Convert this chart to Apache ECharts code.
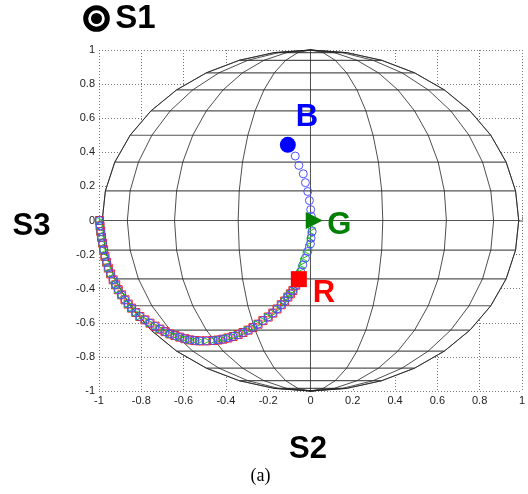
<!DOCTYPE html>
<html>
<head>
<meta charset="utf-8">
<script src="https://cdn.jsdelivr.net/npm/echarts@6/dist/echarts.min.js"></script>
<style>
  html, body { margin: 0; background: #fff; }
  #chart { width: 528px; height: 494px; }
</style>
</head>
<body>
<div id="chart"></div>
<script>
// sphere mesh (degrees)
const latDeg = [-90, -80, -70, -60, -50, -40, -30, -20, -10, 0, 10, 20, 30, 40, 50, 60, 70, 80, 90];
const lonDeg = [-80, -60, -40, -20, 0, 20, 40, 60, 80];

// key states
const pointB = [-0.107, 0.444];
const pointG = [0.018, 0.0];
const pointR = [-0.055, -0.344];

// blue trace B -> G
const blueBG = [
  [-0.072, 0.378], [-0.055, 0.323], [-0.034, 0.274], [-0.024, 0.222],
  [-0.013, 0.170], [-0.005, 0.117], [0.001, 0.064], [0.004, 0.025]
];
// trace G -> R (blue)
const blueGR = [
  [0.008, -0.065], [0.003, -0.103], [0.0, -0.137], [-0.013, -0.182],
  [-0.024, -0.221], [-0.036, -0.260], [-0.046, -0.300]
];
// trace G -> R (green)
const greenGR = [
  [0.008, -0.045], [0.005, -0.085], [0.001, -0.12], [-0.007, -0.160],
  [-0.018, -0.200], [-0.030, -0.240], [-0.041, -0.280], [-0.050, -0.312]
];
// common arc R -> (-1, 0)
const arcPath = [
  [-0.070, -0.380], [-0.083, -0.411], [-0.095, -0.430], [-0.107, -0.449],
  [-0.122, -0.472], [-0.138, -0.494], [-0.158, -0.519], [-0.178, -0.543],
  [-0.200, -0.566], [-0.225, -0.587], [-0.248, -0.608], [-0.272, -0.628],
  [-0.295, -0.643], [-0.319, -0.657], [-0.342, -0.669], [-0.366, -0.680],
  [-0.390, -0.689], [-0.414, -0.696], [-0.437, -0.701], [-0.461, -0.704],
  [-0.492, -0.706], [-0.524, -0.706], [-0.547, -0.704], [-0.571, -0.700],
  [-0.594, -0.693], [-0.618, -0.684], [-0.641, -0.675], [-0.665, -0.665],
  [-0.688, -0.652], [-0.712, -0.637], [-0.735, -0.620], [-0.759, -0.602],
  [-0.783, -0.583], [-0.807, -0.563], [-0.826, -0.540], [-0.846, -0.514],
  [-0.862, -0.490], [-0.877, -0.465], [-0.893, -0.436], [-0.909, -0.406],
  [-0.921, -0.377], [-0.933, -0.348], [-0.945, -0.313], [-0.956, -0.279],
  [-0.964, -0.245], [-0.972, -0.211], [-0.978, -0.172], [-0.983, -0.133],
  [-0.988, -0.099], [-0.992, -0.065], [-0.995, -0.032], [-0.998, 0.0]
];

const FONT = "'Liberation Sans', Arial, sans-serif";
const d2r = Math.PI / 180;

function renderSphere(params, api) {
  const pt = (la, lo) => api.coord([Math.sin(lo * d2r) * Math.cos(la * d2r), Math.sin(la * d2r)]);
  const edge = lonDeg[lonDeg.length - 1];
  const outline = latDeg.map(la => pt(la, edge))
    .concat(latDeg.slice().reverse().map(la => pt(la, -edge)));
  const children = [{
    type: 'polygon', shape: { points: outline },
    style: { fill: '#fff', stroke: '#333', lineWidth: 0.8 }
  }];
  latDeg.forEach(la => {
    if (Math.abs(la) === 90) return;
    const a = pt(la, -edge), b = pt(la, edge);
    children.push({
      type: 'line', shape: { x1: a[0], y1: a[1], x2: b[0], y2: b[1] },
      style: { stroke: '#555', lineWidth: 1.2 }
    });
  });
  lonDeg.forEach(lo => {
    children.push({
      type: 'polyline', shape: { points: latDeg.map(la => pt(la, lo)) },
      style: { fill: 'none', stroke: '#222', lineWidth: 0.8 }
    });
  });
  return { type: 'group', children: children };
}

function hollow(color) {
  return { color: 'rgba(0,0,0,0)', borderColor: color, borderWidth: 1, opacity: 1 };
}

const chart = echarts.init(document.getElementById('chart'));
chart.setOption({
  animation: false,
  grid: { left: 99, right: 5, top: 50, bottom: 103 },
  xAxis: {
    type: 'value', min: -1, max: 1, interval: 0.2,
    axisLine: { lineStyle: { color: '#888', width: 1.5 } },
    axisTick: { inside: true, length: 4, lineStyle: { color: '#888' } },
    axisLabel: { color: '#222', fontSize: 11, fontFamily: FONT, margin: 4 },
    splitLine: { show: true, lineStyle: { color: '#777', type: [1, 2], width: 1 } }
  },
  yAxis: {
    type: 'value', min: -1, max: 1, interval: 0.2,
    axisLine: { lineStyle: { color: '#888', width: 1.5 } },
    axisTick: { inside: true, length: 4, lineStyle: { color: '#888' } },
    axisLabel: { color: '#222', fontSize: 11, fontFamily: FONT, margin: 4 },
    splitLine: { show: true, lineStyle: { color: '#777', type: [1, 2], width: 1 } }
  },
  series: [
    {
      type: 'custom', coordinateSystem: 'cartesian2d', silent: true,
      renderItem: renderSphere, data: [[0, 0]], z: 1
    },
    {
      type: 'scatter', symbol: 'rect', symbolSize: 8, z: 3,
      itemStyle: hollow('#ff1a1a'), data: arcPath
    },
    {
      type: 'scatter', symbol: 'triangle', symbolSize: 7, symbolRotate: -90, z: 4,
      itemStyle: hollow('#22c322'), data: greenGR.concat(arcPath)
    },
    {
      type: 'scatter', symbol: 'circle', symbolSize: 8, z: 5,
      itemStyle: hollow('#5050ff'), data: blueBG.concat(blueGR, arcPath)
    },
    {
      type: 'scatter', z: 6,
      data: [
        { value: pointB, symbol: 'circle', symbolSize: 16, itemStyle: { color: '#0000ff', opacity: 1 },
          label: { show: true, formatter: 'B', color: '#0000ff', offset: [19, -27] } },
        { value: pointG, symbol: 'triangle', symbolRotate: -90, symbolSize: 17, itemStyle: { color: '#007f00', opacity: 1 },
          label: { show: true, formatter: 'G', color: '#007f00', offset: [25, 5] } },
        { value: pointR, symbol: 'rect', symbolSize: 16, itemStyle: { color: '#ff0000', opacity: 1 },
          label: { show: true, formatter: 'R', color: '#ff0000', offset: [25, 14] } }
      ],
      label: { position: 'inside', fontSize: 31, fontWeight: 'bold', fontFamily: FONT }
    }
  ],
  graphic: [
    { type: 'circle', shape: { cx: 96.5, cy: 18.5, r: 10.8 }, style: { fill: 'none', stroke: '#000', lineWidth: 5 } },
    { type: 'circle', shape: { cx: 96.5, cy: 18.5, r: 5.5 }, style: { fill: '#000' } },
    { type: 'text', x: 135.5, y: 19, style: { text: 'S1', font: "bold 33px " + FONT, fill: '#000', textAlign: 'center', textVerticalAlign: 'middle' } },
    { type: 'text', x: 31.5, y: 226, style: { text: 'S3', font: "bold 31px " + FONT, fill: '#000', textAlign: 'center', textVerticalAlign: 'middle' } },
    { type: 'text', x: 308, y: 449, style: { text: 'S2', font: "bold 31px " + FONT, fill: '#000', textAlign: 'center', textVerticalAlign: 'middle' } },
    { type: 'text', x: 260.5, y: 476, style: { text: '(a)', font: "18px 'Liberation Serif', 'Times New Roman', serif", fill: '#000', textAlign: 'center', textVerticalAlign: 'middle' } }
  ]
});
</script>
</body>
</html>
